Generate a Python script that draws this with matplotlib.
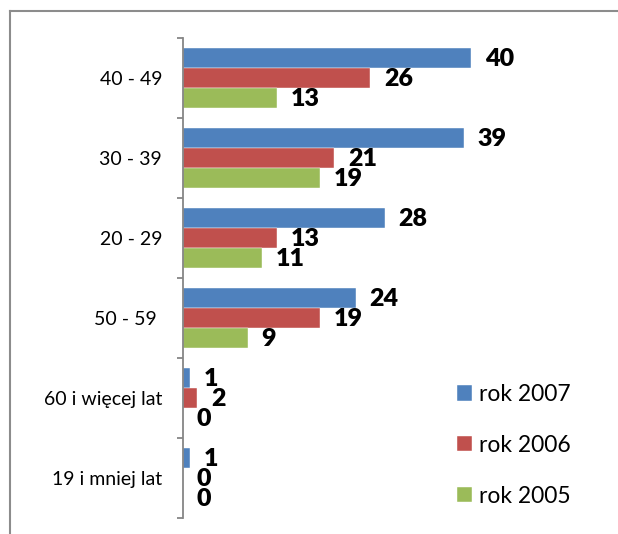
import matplotlib.pyplot as plt
from matplotlib.lines import Line2D
import numpy as np

plt.rcParams['font.family'] = ['Lato', 'DejaVu Sans']

# Categories listed top to bottom as in the chart
categories = ["40 - 49", "30 - 39", "20 - 29", "50 - 59 ", "60 i więcej lat", "19 i mniej lat"]
rok_2007 = [40, 39, 28, 24, 1, 1]
rok_2006 = [26, 21, 13, 19, 2, 0]
rok_2005 = [13, 19, 11, 9, 0, 0]

series = [("rok 2007", rok_2007, "#4F81BD"),
          ("rok 2006", rok_2006, "#C0504D"),
          ("rok 2005", rok_2005, "#9BBB59")]

fig = plt.figure(figsize=(6.18, 5.34), dpi=100)
ax = fig.add_axes([183 / 618, 1 - 518 / 534, 432 / 618, 480 / 534])

# y positions: first category at the top
y = np.arange(len(categories))[::-1]
h = 0.25
offsets = [h, 0, -h]

for (label, values, color), off in zip(series, offsets):
    bars = ax.barh(y + off, values, height=h, color=color, label=label,
                   edgecolor="white", linewidth=0.3)
    for rect, v in zip(bars, values):
        ax.annotate(str(v), (rect.get_width(), rect.get_y() + rect.get_height() / 2),
                    xytext=(10, -1), textcoords="offset points",
                    ha="left", va="center", fontsize=18, fontweight="heavy")

ax.set_xlim(0, 60)
ax.set_ylim(-0.5, len(categories) - 0.5)

# ticks at category boundaries, labels at centres
ax.set_yticks(np.arange(len(categories) + 1) - 0.5)
ax.set_yticklabels([])
ax.set_yticks(y, minor=True)
ax.set_yticklabels(categories, minor=True, fontsize=14)
ax.tick_params(axis="y", which="major", length=4.3, width=1.3, color="#868686")
ax.tick_params(axis="y", which="minor", length=0, pad=15)
ax.set_xticks([])

for side in ["top", "right", "bottom"]:
    ax.spines[side].set_visible(False)
ax.spines["left"].set_color("#868686")
ax.spines["left"].set_linewidth(1.3)

# outer frame (only left and top visible in the crop)
fig.add_artist(Line2D([10 / 618, 10 / 618], [0, 1 - 11 / 534], color="#8C8C8C", linewidth=1.5))
fig.add_artist(Line2D([10 / 618, 1], [1 - 11 / 534, 1 - 11 / 534], color="#8C8C8C", linewidth=1.5))

fig.legend(loc="upper left", bbox_to_anchor=(457 / 618, 1 - 384 / 534),
           frameon=False, fontsize=16.5, borderpad=0, borderaxespad=0,
           handlelength=0.65, handleheight=0.65, handletextpad=0.3,
           labelspacing=1.3)

plt.savefig("out.png", dpi=100)
plt.close()
